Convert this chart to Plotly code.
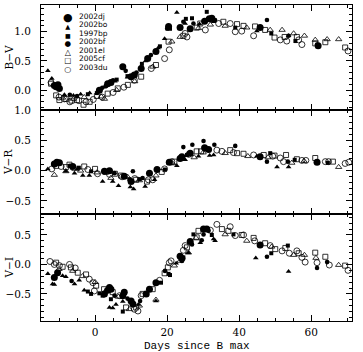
import plotly.graph_objects as go
from plotly.subplots import make_subplots

NAMES = ["2002dj", "2002bo", "1997bp", "2002bf", "2001el", "2005cf", "2003du"]

# ---------------- B-V ----------------
BV_DAY_02DJ = [-11.3, -10.8, -10.3, -9.9, 1.2, 3.5, 4.4, 7.7, 10.0, 10.9, 12.8, 14.6, 16.9, 20.4, 23.6, 26.4, 30.4, 31.7, 32.4, 45.8, 61.9]
BV_02DJ = [0.08, 0.06, 0.09, 0.03, 0.0, 0.11, 0.13, 0.40, 0.23, 0.26, 0.37, 0.54, 0.66, 1.09, 1.07, 1.05, 1.18, 1.22, 1.23, 1.07, 0.76]
BV_DAY_02BO = [-13.1, -12.0, -8.5, -6.0, -4.0, -1.5, 2.5, 5.5, 9.0, 14.0, 17.5, 19.3, 22.7, 25.0, 29.0, 32.9, 44.9, 53.7]
BV_02BO = [0.33, 0.20, -0.08, -0.09, -0.07, -0.05, 0.05, 0.15, 0.22, 0.50, 0.72, 0.88, 1.33, 1.14, 1.13, 1.17, 1.01, 0.93]
BV_DAY_97BP = [-2.0, 0.5, 3.0, 6.0, 9.0, 13.0, 18.0, 20.8, 25.2, 26.9, 31.0, 32.9, 38.9, 48.9, 55.6]
BV_97BP = [-0.07, -0.05, 0.07, 0.18, 0.24, 0.45, 0.75, 1.05, 1.22, 1.23, 1.34, 1.20, 1.07, 0.97, 0.84]
BV_DAY_02BF = [-7.0, -5.0, 2.0, 5.0, 8.5, 11.5, 15.5, 20.0, 24.5, 27.3, 33.3, 47.7, 53.7, 61.6]
BV_02BF = [-0.08, -0.10, 0.04, 0.17, 0.33, 0.30, 0.60, 1.05, 1.17, 1.14, 1.20, 1.20, 0.93, 0.78]
BV_DAY_01EL = [-9.0, -6.0, -3.0, 1.7, 2.6, 6.0, 11.0, 16.0, 21.3, 23.6, 28.7, 32.0, 36.1, 42.1, 48.6, 51.9, 55.1, 58.1, 61.1, 64.4, 67.6]
BV_01EL = [-0.13, -0.15, -0.12, -0.11, -0.15, 0.0, 0.15, 0.40, 0.83, 0.91, 1.06, 1.12, 1.10, 1.07, 1.03, 1.03, 0.97, 0.93, 0.86, 0.87, 0.87]
BV_DAY_05CF = [-12.2, -10.8, -9.9, -8.0, -6.5, -5.0, -3.2, -1.5, 0.5, 3.5, 6.3, 9.1, 12.8, 16.9, 20.4, 24.5, 28.2, 29.2, 35.6, 39.4, 41.2, 44.4, 47.2, 49.8, 52.6, 56.0, 61.1, 63.9, 69.4]
BV_05CF = [0.11, -0.09, -0.17, -0.15, -0.18, -0.17, -0.25, -0.20, -0.10, -0.06, 0.03, 0.09, 0.23, 0.43, 0.83, 0.93, 1.07, 1.14, 1.17, 1.13, 1.10, 1.09, 1.03, 0.90, 0.91, 0.91, 0.80, 0.82, 0.73]
BV_DAY_03DU = [-12.2, -10.0, -8.5, -7.0, -4.5, -2.5, -0.5, 2.0, 5.0, 8.0, 10.9, 15.6, 19.3, 20.6, 25.0, 25.5, 30.6, 34.3, 37.5, 38.9, 40.7, 44.0, 51.4, 53.2, 56.5, 57.4, 70.2]
BV_03DU = [0.13, -0.12, -0.15, -0.20, -0.18, -0.20, -0.16, -0.12, -0.04, 0.05, 0.17, 0.37, 0.54, 0.69, 0.97, 0.91, 1.03, 1.14, 1.14, 1.00, 1.01, 0.93, 0.86, 0.84, 0.86, 0.78, 0.67]

# ---------------- V-R ----------------
VR_DAY_02DJ = [-11.3, -10.6, -9.9, -6.2, 2.6, 4.0, 8.1, 10.0, 15.1, 17.2, 20.6, 23.6, 24.1, 26.4, 30.4, 31.5, 45.8, 61.6]
VR_02DJ = [0.11, 0.14, 0.13, 0.07, -0.01, 0.0, -0.09, -0.18, -0.04, 0.02, 0.14, 0.20, 0.23, 0.29, 0.38, 0.35, 0.23, 0.14]
VR_DAY_02BO = [-13.1, -8.1, -5.7, -5.0, -3.4, -1.6, 2.1, 4.9, 6.5, 9.8, 10.7, 13.9, 16.5, 22.7, 25.0, 28.7, 31.8, 32.9, 44.9, 50.5, 53.7]
VR_02BO = [0.03, -0.01, -0.04, 0.02, -0.08, -0.08, -0.18, -0.18, -0.25, -0.27, -0.30, -0.26, -0.15, 0.08, 0.18, 0.24, 0.25, 0.26, 0.24, 0.06, 0.06]
VR_DAY_97BP = [-4.5, -1.1, 3.5, 9.5, 12.3, 19.4, 20.4, 25.5, 31.0, 48.6, 55.4, 64.6]
VR_97BP = [0.05, -0.01, -0.01, -0.14, -0.14, 0.02, 0.13, 0.26, 0.35, 0.29, 0.18, 0.13]
VR_DAY_02BF = [-7.0, 5.4, 10.5, 13.2, 24.5, 27.0, 30.1, 33.1, 38.9, 47.7, 53.5]
VR_02BF = [0.08, -0.04, -0.01, -0.12, 0.39, 0.43, 0.49, 0.43, 0.41, 0.15, 0.15]
VR_DAY_01EL = [-11.3, -8.1, -4.0, 0.5, 4.4, 9.0, 12.3, 16.9, 21.5, 27.5, 30.0, 36.1, 42.4, 48.0, 54.6, 58.0, 67.6]
VR_01EL = [-0.07, -0.01, 0.0, -0.03, -0.12, -0.10, -0.16, -0.08, 0.12, 0.22, 0.30, 0.29, 0.24, 0.22, 0.13, 0.16, 0.06]
VR_DAY_05CF = [-10.8, -8.1, -7.1, -3.0, 0.0, 3.0, 5.5, 7.2, 11.4, 14.4, 18.5, 22.0, 28.2, 29.4, 37.5, 39.4, 41.2, 46.8, 49.8, 53.0, 56.0, 61.1, 66.0]
VR_05CF = [0.08, 0.06, 0.10, 0.07, 0.03, -0.02, -0.05, -0.08, -0.15, -0.18, -0.02, 0.15, 0.32, 0.32, 0.34, 0.29, 0.28, 0.26, 0.25, 0.26, 0.19, 0.21, 0.15]
VR_DAY_03DU = [-12.0, -9.4, -6.0, -2.0, 0.7, 4.0, 7.5, 11.0, 14.8, 16.0, 19.3, 21.3, 26.0, 33.8, 35.2, 38.4, 44.0, 49.3, 51.4, 52.3, 57.4, 58.5, 63.9, 64.8, 69.4, 70.4]
VR_03DU = [0.03, 0.07, 0.05, 0.02, -0.05, -0.06, -0.10, -0.13, -0.15, -0.15, 0.03, 0.15, 0.27, 0.34, 0.32, 0.30, 0.26, 0.24, 0.21, 0.15, 0.17, 0.17, 0.15, 0.15, 0.12, 0.14]

# ---------------- V-I ----------------
VI_DAY_02DJ = [-11.3, -10.4, 2.6, 3.5, 4.0, 4.4, 7.7, 8.1, 10.0, 10.5, 14.2, 15.1, 16.9, 23.6, 24.1, 26.4, 30.1, 31.0, 45.8]
VI_02DJ = [-0.22, -0.14, -0.50, -0.44, -0.39, -0.42, -0.53, -0.47, -0.62, -0.67, -0.50, -0.42, -0.31, 0.14, 0.10, 0.39, 0.60, 0.60, 0.33]
VI_DAY_02BO = [-13.1, -11.8, -11.3, -9.0, -8.1, -5.7, -4.4, -3.0, 4.0, 4.9, 5.8, 7.7, 12.0, 16.9, 22.5, 25.9, 29.2, 32.9, 33.3, 44.6, 53.7]
VI_02BO = [-0.16, -0.33, -0.34, -0.19, -0.21, -0.33, -0.27, -0.44, -0.73, -0.74, -0.68, -0.63, -0.68, -0.62, 0.02, 0.20, 0.37, 0.43, 0.40, 0.11, -0.12]
VI_DAY_97BP = [-2.0, -1.1, 1.2, 2.1, 4.4, 7.7, 18.3, 20.4, 20.8, 24.5, 27.3, 32.4, 38.4, 48.9, 53.5]
VI_97BP = [-0.46, -0.50, -0.49, -0.53, -0.59, -0.80, -0.31, -0.16, -0.18, 0.12, 0.51, 0.50, 0.51, 0.19, 0.32]
VI_DAY_02BF = [-6.5, 5.4, 9.0, 12.5, 19.4, 24.1, 26.9, 29.6, 30.1, 31.5, 47.7, 61.6, 64.4]
VI_02BF = [-0.28, -0.53, -0.58, -0.62, -0.11, 0.06, 0.34, 0.41, 0.51, 0.57, 0.13, -0.06, 0.04]
VI_DAY_01EL = [-10.0, -6.2, -3.5, 0.0, 3.0, 6.5, 9.5, 12.3, 16.9, 22.0, 23.6, 25.9, 28.0, 36.1, 42.1, 49.0, 55.1, 58.1, 61.3, 67.6]
VI_01EL = [-0.08, -0.11, -0.20, -0.30, -0.45, -0.55, -0.76, -0.70, -0.60, -0.02, 0.06, 0.20, 0.45, 0.51, 0.40, 0.30, 0.16, 0.16, 0.11, -0.01]
VI_DAY_05CF = [-10.8, -9.0, -6.7, -4.8, -2.5, 0.3, 2.5, 4.9, 8.6, 11.4, 13.2, 16.0, 19.3, 20.2, 25.5, 28.2, 28.7, 35.2, 37.0, 40.7, 44.0, 47.2, 50.0, 52.8, 56.5, 61.1, 63.9, 69.4]
VI_05CF = [0.03, -0.04, -0.05, -0.14, -0.17, -0.36, -0.42, -0.47, -0.73, -0.73, -0.50, -0.42, -0.15, -0.05, 0.29, 0.46, 0.57, 0.60, 0.57, 0.50, 0.45, 0.36, 0.26, 0.28, 0.19, 0.20, 0.13, -0.02]
VI_DAY_03DU = [-12.5, -11.3, -9.9, -7.1, -5.5, -1.6, -0.6, -0.2, 6.8, 10.9, 11.9, 12.8, 17.9, 20.6, 21.1, 24.5, 25.0, 32.0, 33.8, 37.5, 38.9, 41.2, 44.3, 48.6, 51.9, 53.9, 56.0, 57.4, 58.3, 61.6, 65.0, 70.2]
VI_03DU = [0.05, 0.0, -0.02, 0.0, -0.06, -0.25, -0.31, -0.45, -0.53, -0.76, -0.79, -0.53, -0.27, 0.03, 0.06, 0.24, 0.32, 0.58, 0.68, 0.64, 0.49, 0.50, 0.40, 0.32, 0.23, 0.19, 0.23, 0.12, 0.04, 0.03, -0.01, -0.10]

PANEL_TITLES = ["B\u2212V", "V\u2212R", "V\u2212I"]
X_TITLE = "Days since B max"

PANELS = [
    {"2002dj": (BV_DAY_02DJ, BV_02DJ), "2002bo": (BV_DAY_02BO, BV_02BO), "1997bp": (BV_DAY_97BP, BV_97BP),
     "2002bf": (BV_DAY_02BF, BV_02BF), "2001el": (BV_DAY_01EL, BV_01EL), "2005cf": (BV_DAY_05CF, BV_05CF),
     "2003du": (BV_DAY_03DU, BV_03DU)},
    {"2002dj": (VR_DAY_02DJ, VR_02DJ), "2002bo": (VR_DAY_02BO, VR_02BO), "1997bp": (VR_DAY_97BP, VR_97BP),
     "2002bf": (VR_DAY_02BF, VR_02BF), "2001el": (VR_DAY_01EL, VR_01EL), "2005cf": (VR_DAY_05CF, VR_05CF),
     "2003du": (VR_DAY_03DU, VR_03DU)},
    {"2002dj": (VI_DAY_02DJ, VI_02DJ), "2002bo": (VI_DAY_02BO, VI_02BO), "1997bp": (VI_DAY_97BP, VI_97BP),
     "2002bf": (VI_DAY_02BF, VI_02BF), "2001el": (VI_DAY_01EL, VI_01EL), "2005cf": (VI_DAY_05CF, VI_05CF),
     "2003du": (VI_DAY_03DU, VI_03DU)},
]

STYLE = {
    "2002dj": dict(symbol="circle", size=7),
    "2002bo": dict(symbol="triangle-up", size=5),
    "1997bp": dict(symbol="square", size=4),
    "2002bf": dict(symbol="circle", size=4.6),
    "2001el": dict(symbol="triangle-up-open", size=5.5),
    "2005cf": dict(symbol="square-open", size=5),
    "2003du": dict(symbol="circle-open", size=6),
}
DRAW_ORDER = ["2001el", "2005cf", "2003du", "2002bo", "1997bp", "2002bf", "2002dj"]

fig = make_subplots(rows=3, cols=1, shared_xaxes=True, vertical_spacing=0)

for r, panel in enumerate(PANELS, start=1):
    for name in DRAW_ORDER:
        d, v = panel[name]
        st = STYLE[name]
        fig.add_trace(go.Scatter(
            x=d, y=v, mode="markers", name=name, showlegend=False,
            marker=dict(symbol=st["symbol"], size=st["size"], color="black",
                        line=dict(color="black", width=0.8 if "open" in st["symbol"] else 0)),
        ), row=r, col=1)

W, H = 363, 352
L, R, T, B = 41, 11, 5, 31
ph = H - T - B
pw = W - L - R
b1 = (110 - T) / ph
b2 = (214 - T) / ph
domains = [[1 - b1, 1.0], [1 - b2, 1 - b1], [0.0, 1 - b2]]
yranges = [[-0.34, 1.457], [-0.715, 1.003], [-0.96, 0.856]]

axis_common = dict(
    showline=True, linecolor="black", linewidth=1, mirror="allticks",
    ticks="inside", ticklen=6, tickwidth=1, tickcolor="black",
    showgrid=False, zeroline=False,
)
tickfont = dict(family="DejaVu Serif", size=10.5, color="black")

for i in range(3):
    xa = "xaxis" if i == 0 else f"xaxis{i+1}"
    ya = "yaxis" if i == 0 else f"yaxis{i+1}"
    fig.layout[xa].update(
        range=[-15, 71.3], tick0=0, dtick=20, showticklabels=(i == 2),
        minor=dict(dtick=5, ticks="inside", ticklen=3, tickcolor="black", tickwidth=1),
        tickfont=tickfont, ticklabelstandoff=1, **axis_common,
    )
    fig.layout[ya].update(
        domain=domains[i], range=yranges[i], tick0=0, dtick=0.5, tickformat=".1f",
        minor=dict(dtick=0.1, ticks="inside", ticklen=3, tickcolor="black", tickwidth=1),
        tickfont=tickfont, ticklabelstandoff=7, **axis_common,
    )
    # y-axis titles at a common x position, centred on each panel
    yc = (domains[i][0] + domains[i][1]) / 2
    fig.add_annotation(xref="paper", yref="paper", x=-(L - 8) / pw, y=yc, text=PANEL_TITLES[i],
                       textangle=-90, showarrow=False, xanchor="center", yanchor="middle",
                       font=dict(family="DejaVu Serif", size=10.5, color="black"))

# x-axis title
fig.add_annotation(xref="paper", yref="paper", x=0.5, y=-(345.6 - (H - B)) / ph, text=X_TITLE,
                   showarrow=False, xanchor="center", yanchor="middle", borderpad=0,
                   font=dict(family="Liberation Mono", size=11, color="black"))

# legend drawn as two text blocks (plotly's own legend rows cannot be this tight)
LEG_GLYPH = {"2002dj": ("\u25CF", 11), "2002bo": ("\u25B2", 6.5), "1997bp": ("\u25A0", 6), "2002bf": ("\u25CF", 7.5),
             "2001el": ("\u25B3", 8), "2005cf": ("\u25A1", 7.5), "2003du": ("\u25CB", 8)}
glyph_text = "<br>".join(
    f"<span style='font-size:{LEG_GLYPH[n][1]}px'>{LEG_GLYPH[n][0]}</span>" for n in NAMES)
label_text = "<br>".join(f"<span style='font-size:7.5px'>{n}</span>" for n in NAMES)
leg_mid = (16.7 + 67.3) / 2
yd = (110 - leg_mid) / (110 - T)
fig.add_annotation(xref="x domain", yref="y domain", x=(68.3 - L) / pw, y=yd,
                   text=glyph_text, showarrow=False, xanchor="center", yanchor="middle", align="center",
                   borderpad=0, font=dict(family="DejaVu Sans", size=6.5, color="black"))
fig.add_annotation(xref="x domain", yref="y domain", x=(77.5 - L) / pw, y=yd,
                   text=label_text, showarrow=False, xanchor="left", yanchor="middle", align="left",
                   borderpad=0, font=dict(family="DejaVu Sans", size=6.5, color="black"))

fig.update_layout(
    width=W, height=H, margin=dict(l=L, r=R, t=T, b=B, autoexpand=False),
    paper_bgcolor="white", plot_bgcolor="white", showlegend=False,
)
fig.write_html("out.html")
